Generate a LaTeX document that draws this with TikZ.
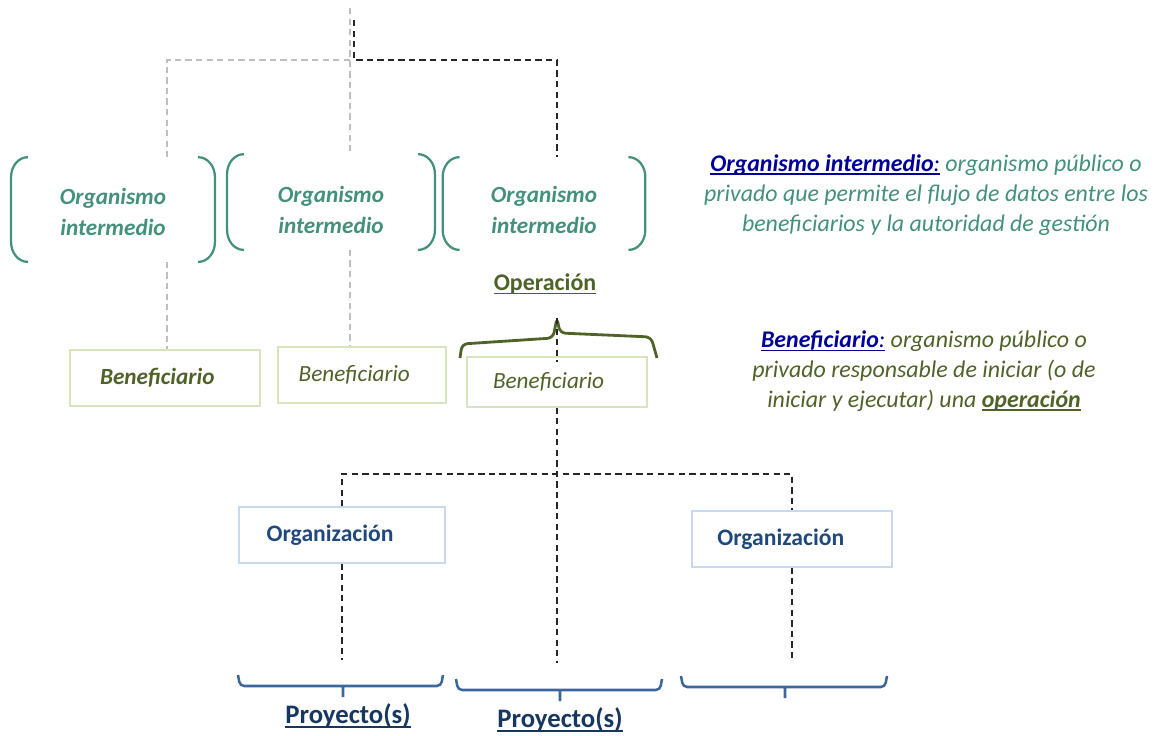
\documentclass[tikz,border=0pt]{standalone}
\usepackage{fontspec}
\setmainfont{Carlito}
\newcommand{\subr}[1]{\setbox0\hbox{#1}\rlap{\rule[-2.8pt]{\wd0}{1.3pt}}\box0}

\definecolor{verdeazul}{HTML}{43917A}
\definecolor{oliva}{HTML}{4F6228}
\definecolor{olivaclaro}{HTML}{D7E4BD}
\definecolor{azulclaro}{HTML}{C6D9F1}
\definecolor{azulorg}{HTML}{1F497D}
\definecolor{azulproy}{HTML}{17375E}
\definecolor{azulllave}{HTML}{3C679C}
\definecolor{azuldef}{HTML}{000099}

\tikzset{
  organismo/.style={align=center, text=verdeazul, font=\fontsize{16.5}{22.5}\selectfont\bfseries\itshape},
  parentesis/.style={verdeazul, line width=1.6pt},
  beneficiario/.style={draw=olivaclaro, line width=1.3pt, text=oliva, font=\fontsize{16.5}{20}\selectfont\itshape},
  organizacion/.style={draw=azulclaro, line width=1.3pt, text=azulorg, font=\fontsize{16.8}{20}\selectfont\bfseries},
  negro/.style={black!85, line width=1.2pt, dash pattern=on 4.5pt off 3pt},
  gris/.style={black!25, line width=1pt, dash pattern=on 4.5pt off 3pt},
  llaveop/.style={oliva, line width=2pt, rounded corners=4pt},
  llaveproy/.style={azulllave, line width=1.8pt, rounded corners=3pt},
  definicion/.style={align=center, font=\fontsize{17}{21.3}\selectfont\itshape}
}

\begin{document}
\begin{tikzpicture}[x=0.025cm,y=-0.025cm]
\useasboundingbox (0,0) rectangle (1160,736);

% organismos intermedios
\node[organismo, minimum width=5.08cm] (oi1) at (113,212) {Organismo\\intermedio};
\node[organismo, minimum width=5.18cm] (oi2) at (331,210) {Organismo\\intermedio};
\node[organismo, minimum width=5.05cm] (oi3) at (544,210) {Organismo\\intermedio};
\foreach \n/\ar/\ab in {oi1/39/35.5, oi2/39.7/28.4, oi3/37.6/28.4}{
  \coordinate (\n-arr) at ([yshift=\ar pt]\n.center);
  \coordinate (\n-ab) at ([yshift=-\ab pt]\n.center);
  \draw[parentesis] ([xshift=12pt]\n.west |- \n-arr) to[out=180,in=90] ([yshift=-14pt]\n.west |- \n-arr)
    -- ([yshift=14pt]\n.west |- \n-ab) to[out=-90,in=180] ([xshift=12pt]\n.west |- \n-ab);
  \draw[parentesis] ([xshift=-12pt]\n.east |- \n-arr) to[out=0,in=90] ([yshift=-14pt]\n.east |- \n-arr)
    -- ([yshift=14pt]\n.east |- \n-ab) to[out=-90,in=0] ([xshift=-12pt]\n.east |- \n-ab);
}

% beneficiarios
\node[beneficiario, font=\fontsize{16.5}{20}\selectfont\bfseries\itshape, minimum width=4.75cm, minimum height=1.4cm] (ben1) at (165,378) {Beneficiario\hspace*{11pt}};
\node[beneficiario, minimum width=4.18cm, minimum height=1.38cm] (ben2) at (362,375) {Beneficiario\hspace*{11pt}};
\node[beneficiario, minimum width=4.5cm, minimum height=1.23cm] (ben3) at (557,382) {Beneficiario\hspace*{12pt}};

\node[text=oliva, font=\fontsize{17}{20}\selectfont\bfseries] (op) at (545,284) {\subr{Operación}};
\coordinate (punta) at (557,318);
\draw[llaveop] (460,358) -- (462,344) -- (553,338) -- (punta) -- (560,333) -- (651,337) -- (657,358);

% organizaciones
\node[organizacion, minimum width=5.13cm, minimum height=1.38cm] (org1) at (342,535) {Organización\hspace*{17pt}};
\node[organizacion, minimum width=4.98cm, minimum height=1.38cm] (org2) at (792,539) {Organización\hspace*{16pt}};

% proyectos
\foreach \a/\b/\y/\m in {238/443/686/343, 456/662/690/560, 681/887/687/785}
  \draw[llaveproy] (\a,\y-11) -- (\a+2,\y) -- (\b-2,\y) -- (\b,\y-11) (\m,\y) -- (\m,\y+11);
\node[text=azulproy, font=\fontsize{19}{22}\selectfont\bfseries] (pr1) at (348,716) {\subr{Proyecto(s)}};
\node[text=azulproy, font=\fontsize{19}{22}\selectfont\bfseries] (pr2) at (560,720) {\subr{Proyecto(s)}};

% conectores
\coordinate (gtop) at (350,8);
\coordinate (g1) at (167,60);
\coordinate (ini) at (354,20);
\coordinate (cruce) at (354,60);
\draw[gris] (gtop) -- (gtop |- oi2-arr);
\draw[gris] (gtop |- g1) -- (g1) -- (g1 |- oi1-arr);
\draw[gris] (g1 |- oi1-ab) -- (g1 |- ben1.north);
\draw[gris] (gtop |- oi2-ab) -- (gtop |- ben2.north);
\draw[negro] (ini) -- (cruce) -| ([xshift=9pt]oi3-arr);
\draw[negro] (punta) -- ([yshift=-4pt]ben3.north);

\coordinate (rama) at (557,474);
\coordinate (b1) at (342,660);
\coordinate (b2) at (557,663);
\coordinate (b3) at (792,660);
\draw[negro] (ben3.south) -- (b2);
\draw[negro] (org1.north) |- (rama) -| (org2.north);
\draw[negro] (org1.south) -- (b1);
\draw[negro] (org2.south) -- (b3);

% definiciones
\node[definicion, text=verdeazul] (def1) at (926,195) {\textcolor{azuldef}{\subr{\textbf{Organismo intermedio}:}} organismo público o\\privado que permite el flujo de datos entre los\\beneficiarios y la autoridad de gestión};
\node[definicion, text=oliva] (def2) at (924,371) {\textcolor{azuldef}{\subr{\textbf{Beneficiario}:}} organismo público o\\privado responsable de iniciar (o de\\iniciar y ejecutar) una \subr{\textbf{operación}}};

\end{tikzpicture}
\end{document}
